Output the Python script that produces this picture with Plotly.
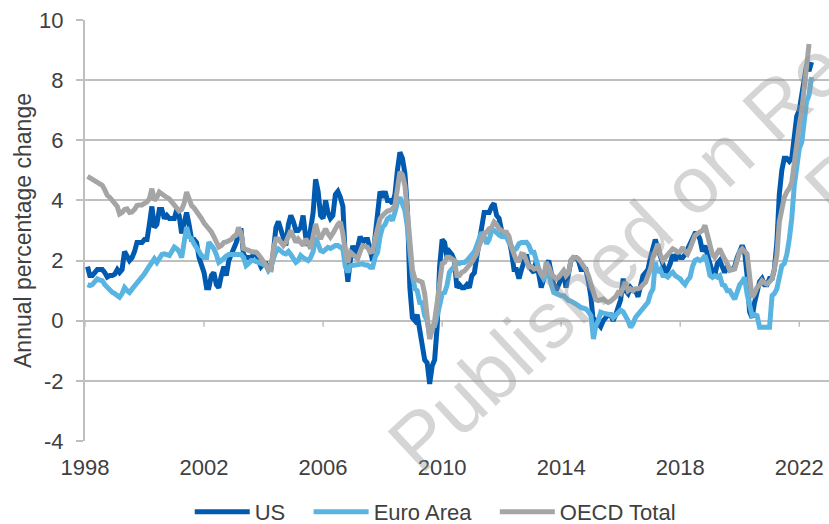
import pandas as pd
import plotly.graph_objects as go

# ---------------- data (annual % change, monthly, from Jan 1998) ----------------
us = [
    1.8, 1.5, 1.5, 1.6, 1.7, 1.7, 1.7, 1.6, 1.45, 1.5, 1.5, 1.55,   # 1998
    1.7, 1.6, 1.7, 2.3, 2.1, 2.0, 2.1, 2.3, 2.6, 2.6, 2.6, 2.7,      # 1999
    2.7, 3.2, 3.8, 3.1, 3.2, 3.7, 3.7, 3.4, 3.5, 3.4, 3.4, 3.4,      # 2000
    3.7, 3.5, 2.9, 3.3, 3.6, 3.2, 2.7, 2.7, 2.6, 2.1, 1.9, 1.6,      # 2001
    1.1, 1.1, 1.5, 1.6, 1.2, 1.1, 1.5, 1.8, 1.5, 2.0, 2.2, 2.4,      # 2002
    2.6, 3.0, 3.0, 2.2, 2.1, 2.1, 2.1, 2.2, 2.3, 2.0, 1.8, 1.9,      # 2003
    1.9, 1.7, 1.7, 2.3, 3.1, 3.3, 3.0, 2.7, 2.5, 3.2, 3.5, 3.3,      # 2004
    3.0, 3.0, 3.1, 3.5, 2.8, 2.5, 3.2, 3.6, 4.7, 4.3, 3.5, 3.4,      # 2005
    4.0, 3.6, 3.4, 3.5, 4.2, 4.3, 4.1, 3.8, 2.1, 1.3, 2.0, 2.5,      # 2006
    2.1, 2.4, 2.8, 2.6, 2.7, 2.7, 2.4, 2.0, 2.8, 3.5, 4.3, 4.1,      # 2007
    4.3, 4.0, 4.0, 3.9, 4.2, 5.0, 5.6, 5.4, 4.9, 3.7, 1.1, 0.1,      # 2008
    0.0, 0.2, -0.4, -0.7, -1.3, -1.4, -2.1, -1.5, -1.3, -0.2, 1.8, 2.7,  # 2009
    2.6, 2.1, 2.3, 2.2, 2.0, 1.1, 1.2, 1.1, 1.1, 1.2, 1.1, 1.5,      # 2010
    1.6, 2.1, 2.7, 3.2, 3.6, 3.6, 3.6, 3.8, 3.9, 3.5, 3.4, 3.0,      # 2011
    2.9, 2.9, 2.7, 2.3, 1.7, 1.7, 1.4, 1.7, 2.0, 2.2, 1.8, 1.7,      # 2012
    1.6, 2.0, 1.5, 1.1, 1.4, 1.8, 2.0, 1.5, 1.2, 1.0, 1.2, 1.5,      # 2013
    1.6, 1.1, 1.5, 2.0, 2.1, 2.1, 2.0, 1.7, 1.7, 1.7, 1.3, 0.8,      # 2014
    -0.1, 0.0, -0.1, -0.2, 0.0, 0.1, 0.2, 0.2, 0.0, 0.2, 0.5, 0.7,   # 2015
    1.4, 1.0, 0.9, 1.1, 1.0, 1.0, 0.8, 1.1, 1.5, 1.6, 1.7, 2.1,      # 2016
    2.5, 2.7, 2.4, 2.2, 1.9, 1.6, 1.7, 1.9, 2.2, 2.0, 2.2, 2.1,      # 2017
    2.1, 2.2, 2.4, 2.5, 2.8, 2.9, 2.9, 2.7, 2.3, 2.5, 2.2, 1.9,      # 2018
    1.6, 1.5, 1.9, 2.0, 1.8, 1.6, 1.8, 1.7, 1.7, 1.8, 2.1, 2.3,      # 2019
    2.5, 2.3, 1.5, 0.3, 0.1, 0.6, 1.0, 1.3, 1.4, 1.2, 1.2, 1.4,      # 2020
    1.4, 1.7, 2.6, 4.2, 5.0, 5.4, 5.4, 5.3, 5.4, 6.2, 6.8, 7.0,      # 2021
    7.5, 7.9, 8.5, 8.3, 8.6,                                          # 2022
]

euro_area = [
    1.2, 1.17, 1.2, 1.3, 1.39, 1.35, 1.33, 1.2, 1.1, 1.0, 0.95, 0.9,     # 1998
    0.83, 0.78, 0.9, 1.1, 1.0, 0.94, 1.05, 1.15, 1.22, 1.35, 1.45, 1.56, # 1999
    1.7, 1.83, 1.95, 2.06, 1.94, 2.1, 2.2, 2.22, 2.2, 2.17, 2.3, 2.45,   # 2000
    2.39, 2.3, 2.1, 2.61, 3.11, 2.8, 2.72, 2.55, 2.45, 2.3, 2.17, 2.1,   # 2001
    2.1, 2.61, 2.5, 2.39, 2.2, 1.94, 2.0, 2.1, 2.15, 2.2, 2.2, 2.17,     # 2002
    2.2, 2.2, 2.2, 2.1, 1.83, 1.9, 2.0, 2.0, 1.95, 1.94, 1.9, 1.85,      # 2003
    1.83, 1.67, 1.78, 2.06, 2.3, 2.39, 2.3, 2.25, 2.22, 2.3, 2.2, 2.1,   # 2004
    1.94, 2.0, 2.17, 2.1, 2.05, 2.0, 2.1, 2.3, 2.78, 2.5, 2.33, 2.3,     # 2005
    2.35, 2.44, 2.4, 2.45, 2.5, 2.5, 2.45, 2.39, 1.8, 1.61, 1.83, 1.85,  # 2006
    1.85, 1.85, 1.89, 1.89, 1.85, 1.85, 1.78, 1.78, 2.1, 2.28, 2.8, 3.11,  # 2007
    3.2, 3.39, 3.45, 3.33, 3.6, 3.94, 4.1, 3.9, 3.67, 3.1, 2.3, 1.5,     # 2008
    1.06, 1.0, 0.61, 0.6, 0.17, 0.0, -0.5, -0.2, -0.17, 0.1, 0.5, 0.9,   # 2009
    0.94, 1.17, 1.61, 1.72, 1.8, 1.94, 1.9, 1.94, 1.94, 2.0, 2.11, 2.2,  # 2010
    2.3, 2.5, 2.7, 2.94, 2.8, 2.56, 2.7, 3.0, 3.0, 2.89, 2.85, 2.8,      # 2011
    2.78, 2.78, 2.6, 2.45, 2.33, 2.4, 2.56, 2.6, 2.6, 2.61, 2.5, 2.28,   # 2012
    2.28, 2.0, 1.72, 1.55, 1.39, 1.5, 1.61, 1.2, 0.94, 0.9, 0.85, 0.83,  # 2013
    0.83, 0.75, 0.67, 0.65, 0.61, 0.55, 0.5, 0.44, 0.42, 0.39, 0.3, 0.17,  # 2014
    -0.61, -0.17, 0.0, 0.28, 0.25, 0.22, 0.22, 0.2, 0.1, 0.2, 0.3, 0.35,   # 2015
    0.3, 0.17, 0.0, -0.22, -0.1, 0.11, 0.2, 0.3, 0.39, 0.5, 0.61, 0.9,   # 2016
    1.06, 1.94, 1.61, 1.7, 1.5, 1.5, 1.45, 1.55, 1.61, 1.5, 1.45, 1.39,  # 2017
    1.28, 1.2, 1.35, 1.44, 1.8, 2.0, 2.05, 2.0, 2.05, 2.17, 1.9, 1.5,    # 2018
    1.44, 1.5, 1.45, 1.5, 1.2, 1.17, 1.0, 1.0, 0.85, 0.72, 0.95, 1.2,    # 2019
    1.3, 1.44, 0.89, 0.5, 0.17, 0.2, 0.17, -0.22, -0.22, -0.22, -0.22, -0.22,  # 2020
    0.83, 0.9, 1.06, 1.56, 1.83, 1.9, 2.2, 2.72, 3.4, 4.5, 5.0, 5.72,    # 2021
    5.94, 6.5, 7.3, 7.5, 8.1,                                             # 2022
]

oecd_total = [
    4.8, 4.75, 4.7, 4.67, 4.6, 4.55, 4.5, 4.35, 4.17, 4.1, 4.0, 3.95,    # 1998
    3.8, 3.55, 3.6, 3.7, 3.72, 3.6, 3.62, 3.7, 3.83, 3.85, 3.85, 3.9,    # 1999
    3.95, 4.06, 4.39, 4.0, 4.1, 4.28, 4.2, 4.15, 4.1, 4.05, 3.95, 3.9,   # 2000
    3.8, 3.65, 3.7, 3.9, 4.28, 4.1, 3.83, 3.75, 3.65, 3.55, 3.4, 3.25,   # 2001
    3.15, 3.1, 2.95, 2.8, 2.6, 2.45, 2.5, 2.6, 2.62, 2.65, 2.7, 2.8,     # 2002
    2.85, 3.1, 2.9, 2.4, 2.35, 2.34, 2.3, 2.3, 2.28, 2.2, 2.1, 2.0,      # 2003
    1.85, 1.72, 1.7, 2.39, 2.72, 2.72, 2.6, 2.5, 2.6, 2.8, 3.0, 2.8,     # 2004
    2.61, 2.72, 2.6, 2.5, 2.72, 2.6, 2.39, 2.8, 3.22, 2.9, 2.72, 2.9,    # 2005
    3.05, 2.9, 2.78, 2.9, 3.1, 3.2, 3.28, 2.89, 2.3, 1.94, 2.28, 2.2,    # 2006
    2.15, 2.06, 2.3, 2.5, 2.47, 2.44, 2.28, 2.3, 2.72, 3.1, 3.39, 3.5,   # 2007
    3.61, 3.65, 3.67, 3.72, 3.83, 4.39, 4.95, 4.85, 4.5, 3.6, 2.7, 1.7,  # 2008
    1.39, 1.35, 1.3, 1.28, 0.9, 0.1, -0.61, -0.3, 0.0, 0.6, 1.3, 1.9,    # 2009
    1.94, 2.11, 2.11, 2.06, 2.0, 1.5, 1.5, 1.61, 1.65, 1.75, 1.83, 1.95, # 2010
    2.1, 2.22, 2.5, 2.72, 2.9, 2.95, 3.06, 3.1, 3.28, 3.2, 3.06, 3.0,    # 2011
    2.94, 2.94, 2.8, 2.44, 2.2, 2.0, 2.0, 2.22, 2.2, 2.0, 1.78, 1.8,     # 2012
    1.72, 1.75, 1.72, 1.55, 1.44, 1.94, 1.8, 1.56, 1.5, 1.39, 1.45, 1.6, # 2013
    1.67, 1.5, 1.6, 2.0, 2.11, 2.1, 2.06, 1.95, 1.83, 1.7, 1.5, 1.2,     # 2014
    0.83, 0.7, 0.67, 0.7, 0.72, 0.65, 0.61, 0.65, 0.72, 0.8, 0.94, 0.9,  # 2015
    1.1, 1.28, 1.0, 1.06, 1.0, 1.06, 1.06, 1.1, 1.2, 1.28, 1.5, 1.72,    # 2016
    2.1, 2.39, 2.56, 2.2, 2.0, 2.1, 2.22, 2.3, 2.39, 2.35, 2.28, 2.3,    # 2017
    2.44, 2.3, 2.22, 2.4, 2.6, 2.83, 2.9, 2.94, 3.0, 3.17, 2.8, 2.39,    # 2018
    2.2, 2.11, 2.3, 2.39, 2.2, 2.06, 1.9, 1.67, 1.7, 1.72, 2.0, 2.3,     # 2019
    2.39, 2.3, 2.22, 1.5, 0.78, 0.9, 1.11, 1.2, 1.33, 1.25, 1.22, 1.3,   # 2020
    1.39, 1.7, 2.17, 3.28, 3.83, 4.1, 4.28, 4.4, 4.6, 5.3, 5.9, 6.5,     # 2021
    7.0, 7.6, 8.4, 9.2,                                                   # 2022
]

series_names = ["US", "Euro Area", "OECD Total"]
series_colors = ["#005BB0", "#5AB4E1", "#A5A5A5"]
tick_years = [1998, 2002, 2006, 2010, 2014, 2018, 2022]
y_ticks = [-4, -2, 0, 2, 4, 6, 8, 10]
y_title = "Annual percentage change"
watermark_line1 = "Published on Re"
watermark_line2 = "P"


def month_dates(n):
    # each monthly observation is placed at the end of its month
    return (pd.period_range("1998-01", periods=n, freq="M") + 1).to_timestamp()


NBSP = "\u00a0"
legend_pad = [NBSP * 3, NBSP * 3, ""]

fig = go.Figure()
for name, pad, vals, col in zip(series_names, legend_pad,
                                [us, euro_area, oecd_total], series_colors):
    fig.add_trace(go.Scatter(
        x=month_dates(len(vals)), y=vals, name=name + pad, mode="lines",
        line=dict(color=col, width=5),
    ))

GRID = "#BFBFBF"
TXT = "#404040"
FONT = "Liberation Sans, Arial, sans-serif"

tick_dates = [pd.Timestamp(f"{y}-01-01") for y in tick_years]

# small tick marks where the category axis crosses zero
for d in tick_dates:
    fig.add_shape(type="line", xref="x", yref="y", x0=d, x1=d,
                  ysizemode="pixel", yanchor=0, y0=0, y1=-6,
                  line=dict(color=GRID, width=1.5))

fig.update_layout(
    width=829, height=524,
    margin=dict(l=85, r=0, t=20, b=83, autoexpand=False),
    paper_bgcolor="white", plot_bgcolor="white",
    font=dict(family=FONT, size=22, color=TXT),
    showlegend=True,
    legend=dict(orientation="h", xref="container", yref="container",
                x=0.525, xanchor="center", y=0.023, yanchor="middle",
                font=dict(size=22, color=TXT), itemwidth=55, bgcolor="rgba(0,0,0,0)"),
    xaxis=dict(type="date", range=["1998-01-01", "2023-01-01"], automargin=False,
               tickvals=tick_dates, ticktext=[str(y) for y in tick_years],
               showgrid=False, zeroline=False, showline=False, ticks="",
               ticklabelstandoff=11, tickfont=dict(size=22, color=TXT)),
    yaxis=dict(range=[-4, 10], tickvals=y_ticks, ticktext=[str(v) for v in y_ticks],
               automargin=False,
               showgrid=True, gridcolor=GRID, gridwidth=1.5,
               zeroline=False, showline=True, linecolor=GRID, linewidth=2,
               ticks="outside", ticklen=7, tickcolor=GRID, tickwidth=1.5,
               ticklabelstandoff=8, tickfont=dict(size=22, color=TXT),
               title=dict(text=y_title, font=dict(size=23, color=TXT), standoff=1)),
)

wm_font = dict(family=FONT, size=80, color="rgba(150,150,150,0.4)")
fig.add_annotation(text=watermark_line1, xref="paper", yref="paper", x=0.715, y=0.44,
                   xanchor="center", yanchor="middle", showarrow=False, textangle=-43,
                   font=wm_font)
fig.add_annotation(text=watermark_line2, xref="paper", yref="paper", x=1.012, y=0.612,
                   xanchor="center", yanchor="middle", showarrow=False, textangle=-43,
                   font=wm_font)

fig.write_html("out.html", config={"displayModeBar": False},
               post_script="document.body.style.margin='0';document.body.style.padding='0';")
